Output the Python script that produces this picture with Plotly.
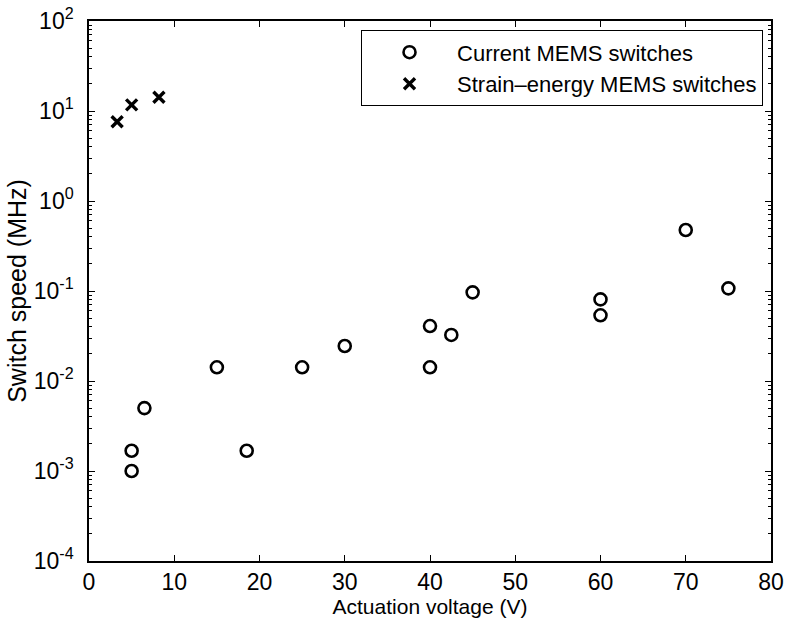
import plotly.graph_objects as go

# Current MEMS switches: actuation voltage (V) vs switch speed (MHz)
current_v = [5, 5, 6.5, 15, 18.5, 25, 30, 40, 40, 42.5, 45, 60, 60, 70, 75]
current_f = [0.001, 0.00168, 0.005, 0.0142, 0.00168, 0.0142, 0.0245, 0.0408,
             0.0142, 0.0325, 0.0966, 0.0807, 0.0537, 0.476, 0.107]

# Strain-energy MEMS switches
strain_v = [3.3, 5.0, 8.2]
strain_f = [7.6, 11.7, 14.2]

x_ticks = [0, 10, 20, 30, 40, 50, 60, 70, 80]
y_exps = [-4, -3, -2, -1, 0, 1, 2]
y_ticks = [10.0 ** e for e in y_exps]
y_ticktext = ["10<sup>%d</sup>" % e for e in y_exps]
y_minor = [m * 10.0 ** e for e in y_exps[:-1] for m in range(2, 10)]

FONT = "Liberation Sans, Arial, Helvetica, sans-serif"

fig = go.Figure()
fig.add_trace(go.Scatter(
    x=current_v, y=current_f, mode="markers", name="Current MEMS switches",
    marker=dict(symbol="circle-open", size=12, color="black",
                line=dict(width=2.6, color="black")),
))
fig.add_trace(go.Scatter(
    x=strain_v, y=strain_f, mode="markers", name="Strain\u2013energy MEMS switches",
    marker=dict(symbol="x-thin", size=11, color="black",
                line=dict(width=3.4, color="black")),
))

axis_common = dict(
    showgrid=False, zeroline=False, showline=True, linecolor="black",
    linewidth=1.5, mirror="ticks", ticks="inside", ticklen=6, tickwidth=1,
    tickcolor="black", tickfont=dict(family=FONT, size=23, color="black"),
    automargin=False,
)

fig.update_xaxes(
    range=[0, 80], tickvals=x_ticks,
    title=dict(text="Actuation voltage (V)", font=dict(family=FONT, size=21, color="black"),
               standoff=0),
    **axis_common,
)
fig.update_yaxes(
    type="log", range=[-4, 2], tickvals=y_ticks, ticktext=y_ticktext,
    ticklabelstandoff=9,
    minor=dict(ticks="inside", ticklen=3, tickvals=y_minor, tickcolor="black"),
    title=dict(text="Switch speed (MHz)", font=dict(family=FONT, size=25, color="black"),
               standoff=0),
    **axis_common,
)

fig.update_layout(
    width=786, height=621,
    margin=dict(l=89, r=15, t=21, b=60),
    paper_bgcolor="white", plot_bgcolor="white",
    font=dict(family=FONT, color="black"),
    showlegend=True,
    legend=dict(
        x=0.988, y=0.983, xanchor="right", yanchor="top",
        bgcolor="white", bordercolor="black", borderwidth=1.2,
        font=dict(family=FONT, size=22, color="black"),
        tracegroupgap=0, itemsizing="trace", itemwidth=85,
    ),
)

fig.write_html("out.html")
